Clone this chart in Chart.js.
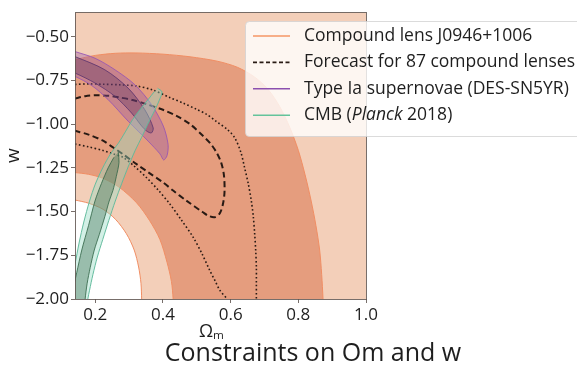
<!DOCTYPE html>
<html>
<head>
<meta charset="utf-8">
<script src="https://cdn.jsdelivr.net/npm/chart.js@4.4.1/dist/chart.umd.min.js"></script>
<style>
  html, body { margin: 0; padding: 0; background: #fff; }
  #wrap { position: relative; width: 577px; height: 372px; }
</style>
</head>
<body>
<div id="wrap"><canvas id="chart" width="577" height="372"></canvas></div>
<script>
(function() {
    'use strict';

    // contours, as [Omega_m, w] pairs

    // compound lens, edge of the 2 sigma region (the empty corner bottom left)
    var lens2SigmaEdge = [
        [0.13, -1.43], [0.14, -1.434], [0.18, -1.452], [0.223, -1.487], [0.26, -1.545],
        [0.292, -1.627], [0.315, -1.72], [0.328, -1.817], [0.335, -1.91], [0.337, -2.0],
        [0.338, -2.05], [1.05, -2.05]
    ];
    // compound lens, 1 sigma band: outer and inner edges
    var lens1SigmaOuter = [
        [0.10, -0.645], [0.14, -0.631], [0.20, -0.607], [0.26, -0.595], [0.32, -0.593],
        [0.40, -0.600], [0.48, -0.615], [0.56, -0.640], [0.62, -0.675], [0.67, -0.73],
        [0.71, -0.80], [0.745, -0.90], [0.775, -1.02], [0.80, -1.15], [0.82, -1.29],
        [0.838, -1.44], [0.852, -1.58], [0.863, -1.72], [0.869, -1.86], [0.873, -2.0],
        [0.875, -2.1]
    ];
    var lens1SigmaInner = [
        [0.10, -1.27], [0.14, -1.277], [0.18, -1.287], [0.223, -1.31], [0.27, -1.36],
        [0.322, -1.45], [0.36, -1.55], [0.391, -1.66], [0.412, -1.79], [0.425, -1.9],
        [0.43, -2.0], [0.432, -2.1]
    ];

    // forecast for 87 lenses
    var forecast1Sigma = [
        [0.14, -0.854], [0.17, -0.84], [0.204, -0.835], [0.24, -0.838], [0.273, -0.848],
        [0.31, -0.862], [0.351, -0.886], [0.40, -0.918], [0.44, -0.953], [0.48, -1.0],
        [0.518, -1.067], [0.54, -1.11], [0.558, -1.161], [0.572, -1.22], [0.58, -1.29],
        [0.582, -1.381], [0.578, -1.45], [0.568, -1.51], [0.553, -1.532], [0.535, -1.525],
        [0.518, -1.504], [0.469, -1.4375], [0.43, -1.38], [0.40, -1.333], [0.36, -1.28],
        [0.322, -1.229], [0.282, -1.172], [0.25, -1.13], [0.223, -1.095], [0.18, -1.06],
        [0.14, -1.038]
    ];
    var forecast2SigmaUpper = [
        [0.14, -0.773], [0.18, -0.77], [0.223, -0.772], [0.27, -0.775], [0.322, -0.782],
        [0.37, -0.805], [0.42, -0.848], [0.46, -0.88], [0.499, -0.915], [0.53, -0.945],
        [0.558, -0.985], [0.59, -1.03], [0.612, -1.078], [0.63, -1.16], [0.641, -1.248],
        [0.652, -1.34], [0.661, -1.4375], [0.667, -1.53], [0.671, -1.627], [0.674, -1.72],
        [0.676, -1.817], [0.676, -1.91], [0.676, -2.0]
    ];
    var forecast2SigmaLower = [
        [0.14, -1.114], [0.18, -1.13], [0.223, -1.151], [0.25, -1.168], [0.282, -1.19],
        [0.315, -1.24], [0.351, -1.305], [0.385, -1.375], [0.42, -1.456], [0.455, -1.55],
        [0.489, -1.646], [0.515, -1.74], [0.538, -1.835], [0.555, -1.9], [0.568, -1.95],
        [0.59, -2.0]
    ];

    // type Ia supernovae (DES-SN5YR)
    var sn2Sigma = [
        [0.11, -0.565], [0.14, -0.585], [0.199, -0.623], [0.258, -0.689], [0.317, -0.775],
        [0.366, -0.888], [0.401, -1.011], [0.415, -1.115], [0.412, -1.18], [0.402, -1.205],
        [0.391, -1.17], [0.356, -1.097], [0.297, -0.983], [0.238, -0.86], [0.19, -0.78],
        [0.14, -0.727], [0.11, -0.71]
    ];
    var sn1Sigma = [
        [0.11, -0.595], [0.14, -0.614], [0.228, -0.689], [0.297, -0.794], [0.346, -0.917],
        [0.371, -1.021], [0.366, -1.05], [0.352, -1.04], [0.337, -1.011], [0.307, -0.936],
        [0.258, -0.841], [0.199, -0.765], [0.14, -0.708], [0.11, -0.69]
    ];

    // CMB (Planck 2018)
    var cmb2Sigma = [
        [0.384, -0.795], [0.397, -0.815], [0.392, -0.85], [0.376, -0.92], [0.355, -1.0],
        [0.337, -1.075], [0.318, -1.15], [0.298, -1.24], [0.278, -1.34], [0.259, -1.44],
        [0.24, -1.55], [0.222, -1.66], [0.206, -1.76], [0.193, -1.86], [0.183, -1.95],
        [0.178, -2.0], [0.175, -2.06], [0.11, -2.06], [0.12, -1.97], [0.14, -1.80],
        [0.152, -1.68], [0.166, -1.56], [0.183, -1.44], [0.2, -1.343], [0.222, -1.25],
        [0.245, -1.17], [0.268, -1.11], [0.29, -1.04], [0.31, -0.975], [0.335, -0.91],
        [0.358, -0.855], [0.374, -0.815]
    ];
    var cmb1Sigma = [
        [0.268, -1.16], [0.27, -1.22], [0.262, -1.30], [0.252, -1.38], [0.241, -1.44],
        [0.228, -1.53], [0.212, -1.63], [0.197, -1.72], [0.185, -1.82], [0.176, -1.91],
        [0.17, -2.0], [0.168, -2.06], [0.12, -2.06], [0.13, -1.98], [0.145, -1.85],
        [0.16, -1.72], [0.18, -1.58], [0.199, -1.44], [0.218, -1.34], [0.238, -1.25],
        [0.255, -1.19]
    ];

    var omTicks = [0.2, 0.4, 0.6, 0.8, 1.0];
    var wTicks = [-2.0, -1.75, -1.5, -1.25, -1.0, -0.75, -0.5];
    var legendLabels = [
        'Compound lens J0946+1006',
        'Forecast for 87 compound lenses',
        'Type Ia supernovae (DES-SN5YR)',
        'CMB (*Planck* 2018)'
    ];
    var chartTitle = 'Constraints on Om and w';

    var FONT = "'Open Sans', 'DejaVu Sans', sans-serif";
    var TEXT = '#1e1e1e';
    var FRAME = 'rgba(95, 85, 80, 0.85)';
    var LIGHT = 'rgb(243, 207, 185)';
    var DARK = 'rgb(229, 157, 126)';
    var ORANGE = 'rgb(240, 142, 100)';
    var INK = 'rgb(40, 26, 20)';
    var PURPLE = 'rgb(140, 80, 175)';
    var GREEN = 'rgb(100, 195, 155)';

    var legendStyles = [
        { color: 'rgb(245, 150, 100)', dash: [] },
        { color: INK, dash: [4, 2.5] },
        { color: PURPLE, dash: [] },
        { color: GREEN, dash: [] }
    ];

    function pts(list) {
        return list.map(function(p) { return { x: p[0], y: p[1] }; });
    }

    function minusLabel(v, digits) {
        var s = Math.abs(v).toFixed(digits);
        return v < 0 ? '\u2212' + s : s;
    }

    function drawLegend(ctx) {
        var x0 = 245, y0 = 21, rowH = 26.4;
        ctx.save();
        ctx.beginPath();
        ctx.roundRect(x0 + 0.5, y0 + 0.5, 360, 115, 4);
        ctx.fillStyle = 'rgba(255, 255, 255, 0.8)';
        ctx.fill();
        ctx.strokeStyle = 'rgba(210, 210, 210, 0.8)';
        ctx.lineWidth = 1;
        ctx.stroke();

        legendLabels.forEach(function(label, i) {
            var y = y0 + 15 + i * rowH;
            var st = legendStyles[i];
            ctx.beginPath();
            ctx.setLineDash(st.dash);
            ctx.strokeStyle = st.color;
            ctx.lineWidth = 1.6;
            ctx.moveTo(253, y);
            ctx.lineTo(290, y);
            ctx.stroke();
            ctx.setLineDash([]);

            // *word* is set in italics
            var parts = label.split('*');
            var x = 304;
            ctx.fillStyle = TEXT;
            ctx.textBaseline = 'middle';
            ctx.textAlign = 'left';
            parts.forEach(function(part, k) {
                ctx.font = (k % 2 ? 'italic ' : '') + '17.5px ' + FONT;
                ctx.fillText(part, x, y);
                x += ctx.measureText(part).width;
            });
        });
        ctx.restore();
    }

    var overlay = {
        id: 'overlay',
        afterDatasetsDraw: function(chart) {
            var a = chart.chartArea, ctx = chart.ctx;
            ctx.save();
            ctx.strokeStyle = FRAME;
            ctx.lineWidth = 1;
            ctx.strokeRect(Math.round(a.left) + 0.5, Math.round(a.top) + 0.5,
                Math.round(a.right - a.left), Math.round(a.bottom - a.top));
            ctx.restore();
        },
        afterDraw: function(chart) {
            var ctx = chart.ctx;
            drawLegend(ctx);
            ctx.save();
            ctx.font = '25px ' + FONT;
            ctx.fillStyle = TEXT;
            ctx.textAlign = 'center';
            ctx.textBaseline = 'middle';
            ctx.fillText(chartTitle, 313, 354);
            ctx.restore();
        }
    };

    var ring = lens1SigmaOuter.concat(lens1SigmaInner.slice().reverse());

    var datasets = [
        { label: 'lens 2 sigma', data: pts(lens2SigmaEdge), fill: 'end',
          backgroundColor: LIGHT, borderColor: ORANGE, borderWidth: 1, order: 10 },
        { label: 'lens 1 sigma', data: pts(ring), fill: 'shape',
          backgroundColor: DARK, borderColor: ORANGE, borderWidth: 1, order: 9 },
        { label: 'forecast 1 sigma', data: pts(forecast1Sigma), fill: false,
          borderColor: INK, borderWidth: 2, borderDash: [6, 3.5], order: 6 },
        { label: 'forecast 2 sigma a', data: pts(forecast2SigmaUpper), fill: false,
          borderColor: INK, borderWidth: 1.6, borderDash: [1.6, 2.4], order: 6 },
        { label: 'forecast 2 sigma b', data: pts(forecast2SigmaLower), fill: false,
          borderColor: INK, borderWidth: 1.6, borderDash: [1.6, 2.4], order: 6 },
        { label: 'SN 2 sigma', data: pts(sn2Sigma), fill: 'shape',
          backgroundColor: 'rgba(150, 85, 170, 0.36)', borderColor: 'rgba(150, 85, 180, 0.85)',
          borderWidth: 1, order: 5 },
        { label: 'SN 1 sigma', data: pts(sn1Sigma), fill: 'shape',
          backgroundColor: 'rgba(75, 35, 85, 0.3)', borderColor: 'rgba(90, 50, 110, 0.8)',
          borderWidth: 1, order: 4 },
        { label: 'CMB 2 sigma', data: pts(cmb2Sigma), fill: 'shape',
          backgroundColor: 'rgba(150, 220, 195, 0.42)', borderColor: 'rgba(95, 185, 155, 0.95)',
          borderWidth: 1, order: 3 },
        { label: 'CMB 1 sigma', data: pts(cmb1Sigma), fill: 'shape',
          backgroundColor: 'rgba(50, 100, 70, 0.36)', borderColor: 'rgba(55, 105, 75, 0.85)',
          borderWidth: 1, order: 2 }
    ];

    Chart.defaults.font.family = FONT;
    Chart.defaults.color = TEXT;

    new Chart(document.getElementById('chart').getContext('2d'), {
        type: 'line',
        data: { datasets: datasets },
        plugins: [overlay],
        options: {
            responsive: false,
            animation: false,
            events: [],
            layout: { padding: { left: 0, right: 211, top: 11, bottom: 0 } },
            elements: {
                point: { radius: 0 },
                line: { tension: 0.3, capBezierPoints: false }
            },
            plugins: {
                legend: { display: false },
                tooltip: { enabled: false },
                title: { display: false }
            },
            scales: {
                x: {
                    type: 'linear',
                    min: 0.14,
                    max: 1.0,
                    afterFit: function(scale) { scale.height = 73; },
                    afterBuildTicks: function(scale) {
                        scale.ticks = omTicks.map(function(v) { return { value: v }; });
                    },
                    border: { display: false },
                    grid: { display: true, drawOnChartArea: false, drawTicks: true,
                            tickLength: 4, color: FRAME },
                    ticks: {
                        padding: 2,
                        maxRotation: 0,
                        font: { size: 17 },
                        callback: function(v) { return minusLabel(v, 1); }
                    },
                    title: {
                        display: true,
                        text: '\u03A9\u2098\u2003',
                        font: { size: 18 },
                        padding: { top: 0, bottom: 29 }
                    }
                },
                y: {
                    type: 'linear',
                    min: -2.0,
                    max: -0.36,
                    afterFit: function(scale) { scale.width = 75; },
                    afterBuildTicks: function(scale) {
                        scale.ticks = wTicks.map(function(v) { return { value: v }; });
                    },
                    border: { display: false },
                    grid: { display: true, drawOnChartArea: false, drawTicks: true,
                            tickLength: 4, color: FRAME },
                    ticks: {
                        padding: 2,
                        font: { size: 17 },
                        callback: function(v) { return minusLabel(v, 2); }
                    },
                    title: {
                        display: true,
                        text: 'w',
                        font: { size: 19 },
                        padding: { top: 2, bottom: 0 }
                    }
                }
            }
        }
    });
})();
</script>
</body>
</html>
